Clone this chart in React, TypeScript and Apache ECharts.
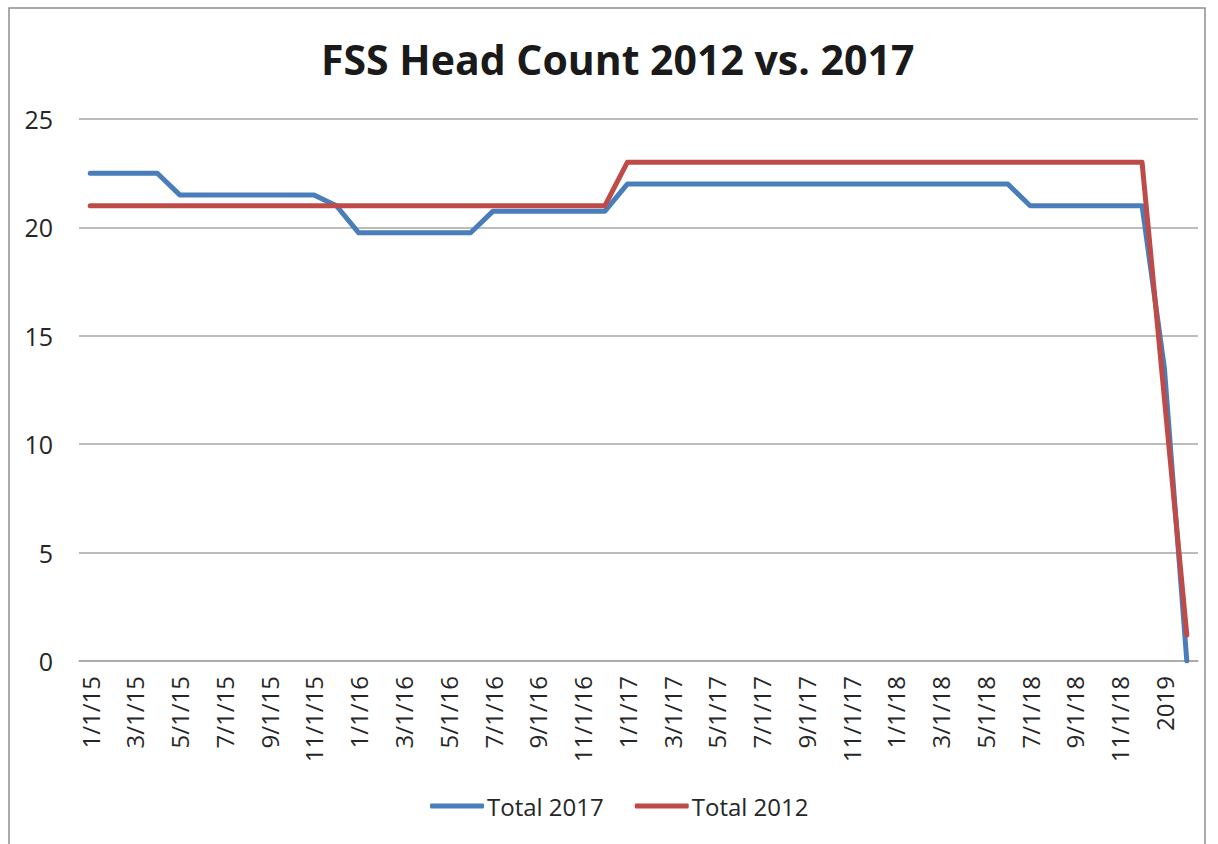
import React, { useEffect, useRef } from "react";
import * as echarts from "echarts";

const titleText = "FSS Head Count 2012 vs. 2017";

const categories = [
  "1/1/15", "2/1/15", "3/1/15", "4/1/15", "5/1/15", "6/1/15", "7/1/15", "8/1/15", "9/1/15", "10/1/15", "11/1/15", "12/1/15",
  "1/1/16", "2/1/16", "3/1/16", "4/1/16", "5/1/16", "6/1/16", "7/1/16", "8/1/16", "9/1/16", "10/1/16", "11/1/16", "12/1/16",
  "1/1/17", "2/1/17", "3/1/17", "4/1/17", "5/1/17", "6/1/17", "7/1/17", "8/1/17", "9/1/17", "10/1/17", "11/1/17", "12/1/17",
  "1/1/18", "2/1/18", "3/1/18", "4/1/18", "5/1/18", "6/1/18", "7/1/18", "8/1/18", "9/1/18", "10/1/18", "11/1/18", "12/1/18",
  "2019", "",
];

const total2017 = [
  22.5, 22.5, 22.5, 22.5, 21.5, 21.5, 21.5, 21.5, 21.5, 21.5, 21.5, 21,
  19.75, 19.75, 19.75, 19.75, 19.75, 19.75, 20.75, 20.75, 20.75, 20.75, 20.75, 20.75,
  22, 22, 22, 22, 22, 22, 22, 22, 22, 22, 22, 22,
  22, 22, 22, 22, 22, 22, 21, 21, 21, 21, 21, 21,
  13.5, 0,
];

const total2012 = [
  21, 21, 21, 21, 21, 21, 21, 21, 21, 21, 21, 21,
  21, 21, 21, 21, 21, 21, 21, 21, 21, 21, 21, 21,
  23, 23, 23, 23, 23, 23, 23, 23, 23, 23, 23, 23,
  23, 23, 23, 23, 23, 23, 23, 23, 23, 23, 23, 23,
  12.1, 1.2,
];

const seriesNames = ["Total 2017", "Total 2012"];
const yTicks = { min: 0, max: 25, interval: 5 };

const BLUE = "#4A7EBB";
const RED = "#BE4B48";
const GRID = "#A6A6A6";
const TEXT = "#262626";
const FONT = "'Open Sans', 'Noto Sans', sans-serif";

export default function App() {
  const ref = useRef<HTMLDivElement>(null);

  useEffect(() => {
    if (!ref.current) return;
    const chart = echarts.init(ref.current, null, { renderer: "svg" });
    chart.setOption({
      animation: false,
      backgroundColor: "#ffffff",
      title: {
        text: titleText,
        left: 321,
        top: 38,
        padding: 0,
        textStyle: {
          fontFamily: FONT,
          fontWeight: "bold",
          fontSize: 41,
          color: "#1a1a1a",
        },
      },
      graphic: [
        {
          type: "rect",
          shape: { x: 9, y: 8, width: 1196, height: 900 },
          style: { fill: "none", stroke: "#8f8f8f", lineWidth: 1.5 },
          silent: true,
        },
      ],
      legend: {
        data: seriesNames,
        left: 425,
        top: 789,
        icon: "roundRect",
        itemWidth: 54,
        itemHeight: 5,
        itemGap: 31,
        textStyle: { fontFamily: FONT, fontSize: 24, color: TEXT, padding: [0, 0, 0, -2] },
      },
      grid: { left: 79, right: 20, top: 119, bottom: 183, containLabel: false },
      xAxis: {
        type: "category",
        data: categories,
        boundaryGap: true,
        axisLine: { show: true, lineStyle: { color: GRID, width: 1.5 } },
        axisTick: { show: false },
        axisLabel: {
          interval: 1,
          rotate: 90,
          margin: 15,
          fontFamily: FONT,
          fontSize: 24,
          color: TEXT,
        },
      },
      yAxis: {
        type: "value",
        min: yTicks.min,
        max: yTicks.max,
        interval: yTicks.interval,
        axisLine: { show: false },
        axisTick: { show: false },
        splitLine: { lineStyle: { color: GRID, width: 1.5 } },
        axisLabel: { margin: 26, fontFamily: FONT, fontSize: 25, color: TEXT },
      },
      series: [
        {
          name: seriesNames[0],
          type: "line",
          data: total2017,
          symbol: "none",
          color: BLUE,
          lineStyle: { color: BLUE, width: 5, cap: "round", join: "round" },
        },
        {
          name: seriesNames[1],
          type: "line",
          data: total2012,
          symbol: "none",
          color: RED,
          lineStyle: { color: RED, width: 5, cap: "round", join: "round" },
        },
      ],
    });
    return () => chart.dispose();
  }, []);

  return (
    <div
      ref={ref}
      style={{ position: "absolute", left: 0, top: 0, width: 1218, height: 844 }}
    />
  );
}
